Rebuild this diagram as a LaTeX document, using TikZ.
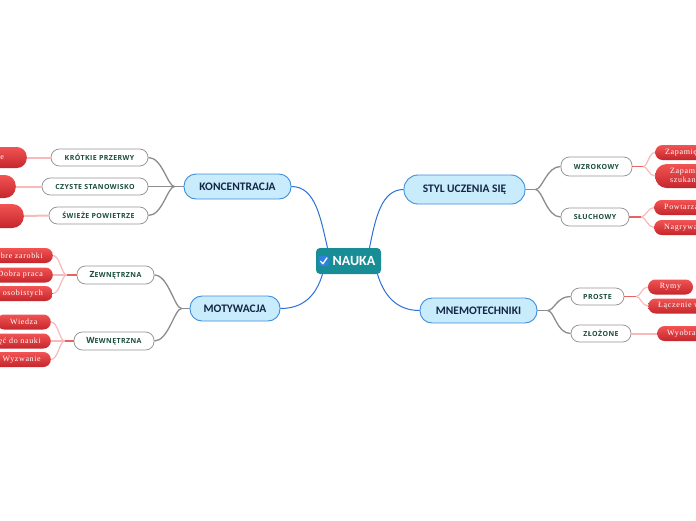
\documentclass[tikz,border=0pt]{standalone}
\usepackage{fontspec}
\setmainfont{Liberation Serif}
\newfontfamily\mainf{Carlito}
\newfontfamily\subf[LetterSpace=6]{Open Sans}
\newfontfamily\redf[LetterSpace=8]{Liberation Serif}
\usetikzlibrary{calc}
\definecolor{bluec}{RGB}{46,112,217}
\definecolor{mainfill}{RGB}{201,236,252}
\definecolor{maindraw}{RGB}{62,142,222}
\definecolor{maintext}{RGB}{20,38,70}
\definecolor{subtext}{RGB}{27,77,60}
\definecolor{subdraw}{RGB}{150,150,150}
\definecolor{grayc}{RGB}{140,140,140}
\definecolor{pinkc}{RGB}{247,185,185}
\definecolor{redc}{RGB}{228,100,100}
\definecolor{redtop}{RGB}{242,84,84}
\definecolor{redbot}{RGB}{196,38,44}
\definecolor{tealc}{RGB}{25,141,150}
\definecolor{iconblue}{RGB}{47,128,225}
\newcommand{\capbig}[1]{{\fontsize{8.5}{9}\selectfont #1}}
\tikzset{
  mainbox/.style={draw=maindraw, fill=mainfill, line width=0.9pt, rounded corners=12pt,
    minimum height=25pt, inner sep=0pt, text=maintext,
    font=\mainf\bfseries\fontsize{11.5}{13}\selectfont},
  subbox/.style={draw=subdraw, fill=white, line width=0.8pt, rounded corners=8.4pt,
    minimum height=17pt, inner sep=0pt, text=subtext,
    font=\subf\bfseries\fontsize{7}{8}\selectfont},
  redbox/.style={top color=redtop, bottom color=redbot, rounded corners=7.4pt,
    minimum height=15pt, inner xsep=10pt, inner ysep=0pt, text=white,
    font=\redf\fontsize{8}{9}\selectfont},
  blueline/.style={draw=bluec, line width=1pt},
  grayline/.style={draw=grayc, line width=1.3pt},
  pinkline/.style={draw=pinkc, line width=1.2pt},
  redstub/.style={draw=redc, line width=1.2pt},
  pinkstraight/.style={draw=pinkc, line width=2pt}
}
\begin{document}
\begin{tikzpicture}[x=1pt,y=-1pt]
\useasboundingbox (0,0) rectangle (696,520);
\clip (0,0) rectangle (696,520);
\fill[white] (0,0) rectangle (696,520);

% central node
\node[fill=tealc, rounded corners=4pt, minimum width=65pt, minimum height=26pt, inner sep=0pt,
  text=white, font=\mainf\bfseries\fontsize{14}{15}\selectfont] (nauka) at (348.5,261) {\hspace{11pt}NAUKA};
\fill[iconblue, rounded corners=1.5pt] (318.5,256) rectangle (328.5,266);
\draw[white, line width=1.3pt, line cap=round, line join=round] (320.6,261.3) -- (322.9,263.8) -- (327,257.8);

% main topics
\node[mainbox, minimum width=107pt] (kon) at (237.5,186.5) {KONCENTRACJA};
\node[mainbox, minimum width=90pt] (mot) at (235,308.5) {MOTYWACJA};
\node[mainbox, minimum width=121pt, minimum height=29pt, rounded corners=14pt] (styl) at (464.5,189.5) {STYL UCZENIA SIĘ};
\node[mainbox, minimum width=117pt] (mne) at (478.5,310.5) {MNEMOTECHNIKI};

% subtopics
\node[subbox, minimum width=97pt] (kp) at (99.5,157.5) {KRÓTKIE PRZERWY};
\node[subbox, minimum width=106pt] (cs) at (95,186.5) {CZYSTE STANOWISKO};
\node[subbox, minimum width=99pt] (sp) at (98.5,215.5) {ŚWIEŻE POWIETRZE};
\node[subbox, minimum width=77pt, minimum height=18pt] (zew) at (115.5,275) {\capbig{Z}EWNĘTRZNA};
\node[subbox, minimum width=80pt, minimum height=18pt] (wew) at (114,341) {\capbig{W}EWNĘTRZNA};
\node[subbox, minimum width=71pt, minimum height=19pt] (wz) at (596.5,166.5) {WZROKOWY};
\node[subbox, minimum width=68pt, minimum height=18pt] (sl) at (595,217) {SŁUCHOWY};
\node[subbox, minimum width=53pt] (pr) at (597.5,296.5) {PROSTE};
\node[subbox, minimum width=60pt] (zl) at (601,333.5) {ZŁOŻONE};

% leaves left
\node[redbox, anchor=east, minimum height=21pt, rounded corners=10pt, inner xsep=23pt] (r1) at (27,157.5) {Regularne};
\node[redbox, anchor=east, minimum height=23pt, minimum width=60pt, rounded corners=11pt] (r2) at (16,186.5) {};
\node[redbox, anchor=east, minimum height=24pt, minimum width=70pt, rounded corners=11.5pt] (r3) at (24,216) {};
\node[redbox, anchor=east] (d1) at (53,255.5) {Dobre zarobki};
\node[redbox, anchor=east] (d2) at (53,275) {Dobra praca};
\node[redbox, anchor=east] (d3) at (53,293.5) {Realizacja celów osobistych};
\node[redbox, anchor=east, minimum width=54pt] (w1) at (51,322) {Wiedza};
\node[redbox, anchor=east] (w2) at (51,341) {Chęć do nauki};
\node[redbox, anchor=east] (w3) at (51,359.5) {Wyzwanie};

% leaves right
\node[redbox, anchor=west] (z1) at (655,152.5) {Zapamiętywanie obrazów};
\node[redbox, anchor=west, minimum height=24pt, rounded corners=11.5pt, inner xsep=15pt, align=left,
  font=\redf\fontsize{8}{9.5}\selectfont] (z2) at (655,176) {Zapamiętywanie przez\\szukanie skojarzeń};
\node[redbox, anchor=west] (p1) at (654,207.5) {Powtarzanie na głos};
\node[redbox, anchor=west] (p2) at (654,227.5) {Nagrywanie notatek};
\node[redbox, minimum width=45pt] (rymy) at (670.5,287) {Rymy};
\node[redbox, anchor=west] (lacz) at (648,306) {Łączenie w pary};
\node[redbox, anchor=west] (wyo) at (657,333.5) {Wyobraźnia};

% centre connectors
\draw[blueline] (kon.east) .. controls ($(kon.east)+(24,0)$) and ($(nauka.north)+(-28,-30)$) .. ($(nauka.north)+(-21,0)$);
\draw[blueline] (mot.east) .. controls ($(mot.east)+(24,0)$) and ($(nauka.south)+(-32,20)$) .. ($(nauka.south)+(-26,0)$);
\draw[blueline] (styl.west) .. controls ($(styl.west)+(-22,0)$) and ($(nauka.north)+(27,-30)$) .. ($(nauka.north)+(21,0)$);
\draw[blueline] (mne.west) .. controls ($(mne.west)+(-24,0)$) and ($(nauka.south)+(35,20)$) .. ($(nauka.south)+(29,0)$);

% gray fans
\coordinate (konf) at ($(kon.west)+(-9,0)$);
\draw[grayline] (kon.west) -- (konf);
\foreach \t in {kp,cs,sp}
  \draw[grayline] (konf) .. controls ($(konf)+(-7,0)$) and ($(\t.east)+(14,0)$) .. (\t.east);
\coordinate (motf) at ($(mot.west)+(-8,0)$);
\draw[grayline] (mot.west) -- (motf);
\foreach \t in {zew,wew}
  \draw[grayline] (motf) .. controls ($(motf)+(-7,0)$) and ($(\t.east)+(14,0)$) .. (\t.east);
\coordinate (stylf) at ($(styl.east)+(10,0)$);
\draw[grayline] (styl.east) -- (stylf);
\foreach \t in {wz,sl}
  \draw[grayline] (stylf) .. controls ($(stylf)+(7,0)$) and ($(\t.west)+(-14,0)$) .. (\t.west);
\coordinate (mnef) at ($(mne.east)+(10,0)$);
\draw[grayline] (mne.east) -- (mnef);
\foreach \t in {pr,zl}
  \draw[grayline] (mnef) .. controls ($(mnef)+(7,0)$) and ($(\t.west)+(-14,0)$) .. (\t.west);

% pink connectors
\draw[pinkstraight] (kp.west) -- (r1.east);
\draw[pinkstraight] (cs.west) -- (r2.east);
\draw[pinkstraight] (sp.west) -- (r3.east);
\draw[pinkstraight] (zl.east) -- (wyo.west);
\coordinate (zewf) at ($(zew.west)+(-10,0)$);
\draw[redstub] (zew.west) -- (zewf);
\foreach \t in {d1,d2,d3}
  \draw[pinkline] (zewf) .. controls ($(zewf)+(-5,0)$) and ($(\t.east)+(7,0)$) .. (\t.east);
\coordinate (wewf) at ($(wew.west)+(-9,0)$);
\draw[redstub] (wew.west) -- (wewf);
\foreach \t in {w1,w2,w3}
  \draw[pinkline] (wewf) .. controls ($(wewf)+(-5,0)$) and ($(\t.east)+(7,0)$) .. (\t.east);
\coordinate (wzf) at ($(wz.east)+(11,0)$);
\draw[redstub] (wz.east) -- (wzf);
\foreach \t in {z1,z2}
  \draw[pinkline] (wzf) .. controls ($(wzf)+(4,0)$) and ($(\t.west)+(-6,0)$) .. (\t.west);
\coordinate (slf) at ($(sl.east)+(12,0)$);
\draw[redstub] (sl.east) -- (slf);
\foreach \t in {p1,p2}
  \draw[pinkline] (slf) .. controls ($(slf)+(4,0)$) and ($(\t.west)+(-6,0)$) .. (\t.west);
\coordinate (prf) at ($(pr.east)+(12,0)$);
\draw[redstub] (pr.east) -- (prf);
\foreach \t in {rymy,lacz}
  \draw[pinkline] (prf) .. controls ($(prf)+(4,0)$) and ($(\t.west)+(-6,0)$) .. (\t.west);
\end{tikzpicture}
\end{document}
